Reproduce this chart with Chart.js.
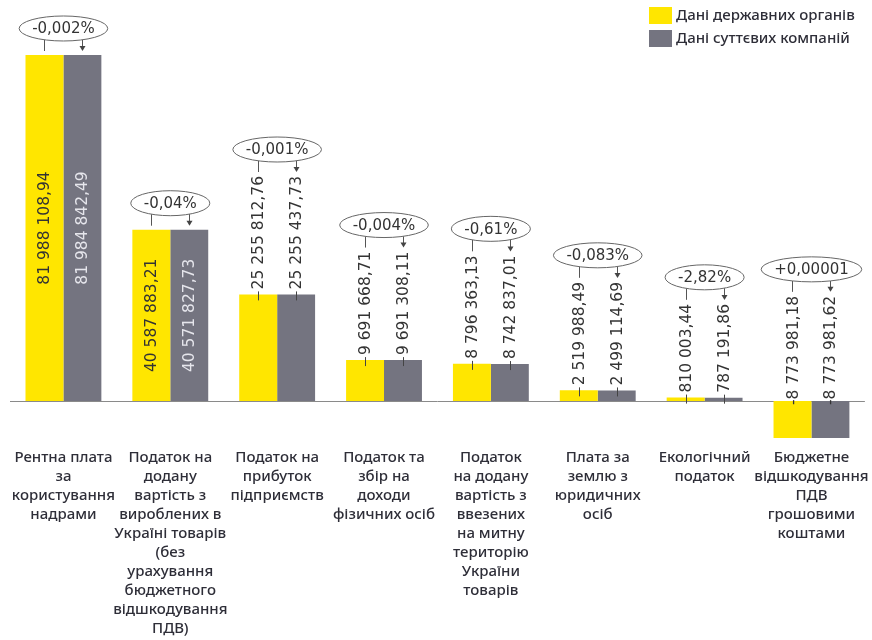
<!DOCTYPE html>
<html><head><meta charset="utf-8">
<script src="https://cdn.jsdelivr.net/npm/chart.js@4"></script>
<style>html,body{margin:0;padding:0;background:#fff}canvas{display:block}</style>
</head><body>
<canvas id="c" width="872" height="640"></canvas>
<script>
const categories = [
  ["Рентна плата","за","користування","надрами"],
  ["Податок на","додану","вартість з","вироблених в","Україні товарів","(без","урахування","бюджетного","відшкодування","ПДВ)"],
  ["Податок на","прибуток","підприємств"],
  ["Податок та","збір на","доходи","фізичних осіб"],
  ["Податок","на додану","вартість з","ввезених","на митну","територію","України","товарів"],
  ["Плата за","землю з","юридичних","осіб"],
  ["Екологічний","податок"],
  ["Бюджетне","відшкодування","ПДВ","грошовими","коштами"]
];
const seriesNames = ["Дані державних органів","Дані суттєвих компаній"];
const stateData = [81988108.94, 40587883.21, 25255812.76, 9691668.71, 8796363.13, 2519988.49, 810003.44, -8773981.18];
const companyData = [81984842.49, 40571827.73, 25255437.73, 9691308.11, 8742837.01, 2499114.69, 787191.86, -8773981.62];
const diffLabels = ["-0,002%","-0,04%","-0,001%","-0,004%","-0,61%","-0,083%","-2,82%","+0,00001"];

const YELLOW = '#FFE600', GRAY = '#747480', TEXT = '#2e2e38';

function fmt(v){
  const neg = v < 0;
  const parts = Math.abs(v).toFixed(2).split('.');
  return (neg ? '-' : '') + parts[0].replace(/\B(?=(\d{3})+(?!\d))/g, ' ') + ',' + parts[1];
}

const overlay = {
  id: 'overlay',
  beforeDatasetsDraw(chart){
    const ctx = chart.ctx, a = chart.chartArea;
    const y0 = Math.round(chart.scales.y.getPixelForValue(0)) + 0.5;
    ctx.save();
    ctx.strokeStyle = '#8a8a8a'; ctx.lineWidth = 1;
    ctx.beginPath(); ctx.moveTo(a.left, y0); ctx.lineTo(a.right, y0); ctx.stroke();
    ctx.restore();
  },
  afterDatasetsDraw(chart){
    const ctx = chart.ctx;
    const zeroY = chart.scales.y.getPixelForValue(0);
    const n = chart.data.labels.length;
    const tops = [];
    const xs = [];
    for (let i = 0; i < n; i++){ tops.push([0,0]); xs.push([0,0]); }
    ctx.save();
    ctx.font = '15.5px "DejaVu Sans"';
    ctx.textBaseline = 'middle';
    chart.data.datasets.forEach((ds, di) => {
      chart.getDatasetMeta(di).data.forEach((bar, i) => {
        const v = ds.data[i];
        const txt = fmt(v);
        const w = ctx.measureText(txt).width;
        const x = bar.x;
        const top = Math.min(bar.y, bar.base);
        const h = Math.abs(bar.base - bar.y);
        xs[i][di] = x;
        ctx.save();
        if (v > 0 && h > w + 24){
          ctx.translate(x, (bar.y + bar.base) / 2);
          ctx.rotate(-Math.PI / 2);
          ctx.textAlign = 'center';
          ctx.fillStyle = di === 0 ? '#333333' : '#e6e6ec';
          ctx.fillText(txt, 0, 1);
          tops[i][di] = top;
        } else if (v > 0){
          ctx.strokeStyle = '#444'; ctx.lineWidth = 1;
          ctx.beginPath(); ctx.moveTo(Math.round(x) + 0.5, top + 6); ctx.lineTo(Math.round(x) + 0.5, top - 3); ctx.stroke();
          ctx.translate(x, top - 5);
          ctx.rotate(-Math.PI / 2);
          ctx.textAlign = 'left';
          ctx.fillStyle = '#333333';
          ctx.fillText(txt, 0, 1);
          tops[i][di] = top - 5 - w;
        } else {
          ctx.translate(x, zeroY + 4);
          ctx.rotate(-Math.PI / 2);
          ctx.textAlign = 'left';
          ctx.fillStyle = '#333333';
          ctx.fillText(txt, 0, 1);
          tops[i][di] = zeroY + 4 - w;
        }
        ctx.restore();
      });
    });
    // difference annotations
    ctx.font = '15px "DejaVu Sans"';
    ctx.textAlign = 'center';
    ctx.textBaseline = 'middle';
    for (let i = 0; i < n; i++){
      const cx = (xs[i][0] + xs[i][1]) / 2;
      const minTop = Math.min(tops[i][0], tops[i][1]);
      const tw = ctx.measureText(diffLabels[i]).width;
      const ra = tw / 2 + 13, rb = 12.5;
      const cy = minTop - 14 - rb;
      ctx.strokeStyle = '#555'; ctx.lineWidth = 1;
      [0,1].forEach(k => {
        const lx = Math.round(xs[i][k]) + 0.5;
        const dx = (lx - cx) / ra;
        const ys = cy + rb * Math.sqrt(Math.max(0, 1 - dx*dx));
        const ye = tops[i][k] - 4;
        ctx.beginPath(); ctx.moveTo(lx, ys); ctx.lineTo(lx, k === 1 ? ye - 4 : ye); ctx.stroke();
        if (k === 1){
          ctx.fillStyle = '#444';
          ctx.beginPath(); ctx.moveTo(lx - 3, ye - 5); ctx.lineTo(lx + 3, ye - 5); ctx.lineTo(lx, ye); ctx.closePath(); ctx.fill();
        }
      });
      ctx.beginPath();
      ctx.ellipse(cx, cy, ra, rb, 0, 0, Math.PI * 2);
      ctx.fillStyle = '#fff'; ctx.fill();
      ctx.strokeStyle = '#666'; ctx.stroke();
      ctx.fillStyle = '#333';
      ctx.fillText(diffLabels[i], cx, cy + 1);
    }
    ctx.restore();
  },
  afterDraw(chart){
    const ctx = chart.ctx;
    ctx.save();
    ctx.font = '500 15px "Noto Sans"';
    ctx.textAlign = 'left';
    ctx.textBaseline = 'middle';
    chart.data.datasets.forEach((ds, di) => {
      const y = 7 + di * 23;
      ctx.fillStyle = ds.backgroundColor;
      ctx.fillRect(649, y, 23, 17);
      ctx.fillStyle = TEXT;
      ctx.fillText(ds.label, 676, y + 8.5);
    });
    ctx.restore();
  }
};

new Chart(document.getElementById('c'), {
  type: 'bar',
  data: {
    labels: categories,
    datasets: [
      { label: seriesNames[0], data: stateData, backgroundColor: YELLOW, borderWidth: 0 },
      { label: seriesNames[1], data: companyData, backgroundColor: GRAY, borderWidth: 0 }
    ]
  },
  options: {
    responsive: false,
    animation: false,
    devicePixelRatio: 1,
    categoryPercentage: 0.71,
    barPercentage: 1.0,
    layout: { padding: { left: 10, right: 6, top: 0, bottom: 0 } },
    plugins: { legend: { display: false }, tooltip: { enabled: false } },
    scales: {
      x: {
        grid: { display: false, drawTicks: false },
        border: { display: false },
        ticks: {
          padding: 3,
          color: TEXT,
          autoSkip: false,
          maxRotation: 0,
          font: { family: '"Noto Sans"', size: 15, weight: '500', lineHeight: 1.2667 }
        },
        afterFit(scale){ scale.height = 195; }
      },
      y: {
        display: false,
        min: -10430000,
        max: 95020000
      }
    }
  },
  plugins: [overlay]
});
</script>
</body></html>
